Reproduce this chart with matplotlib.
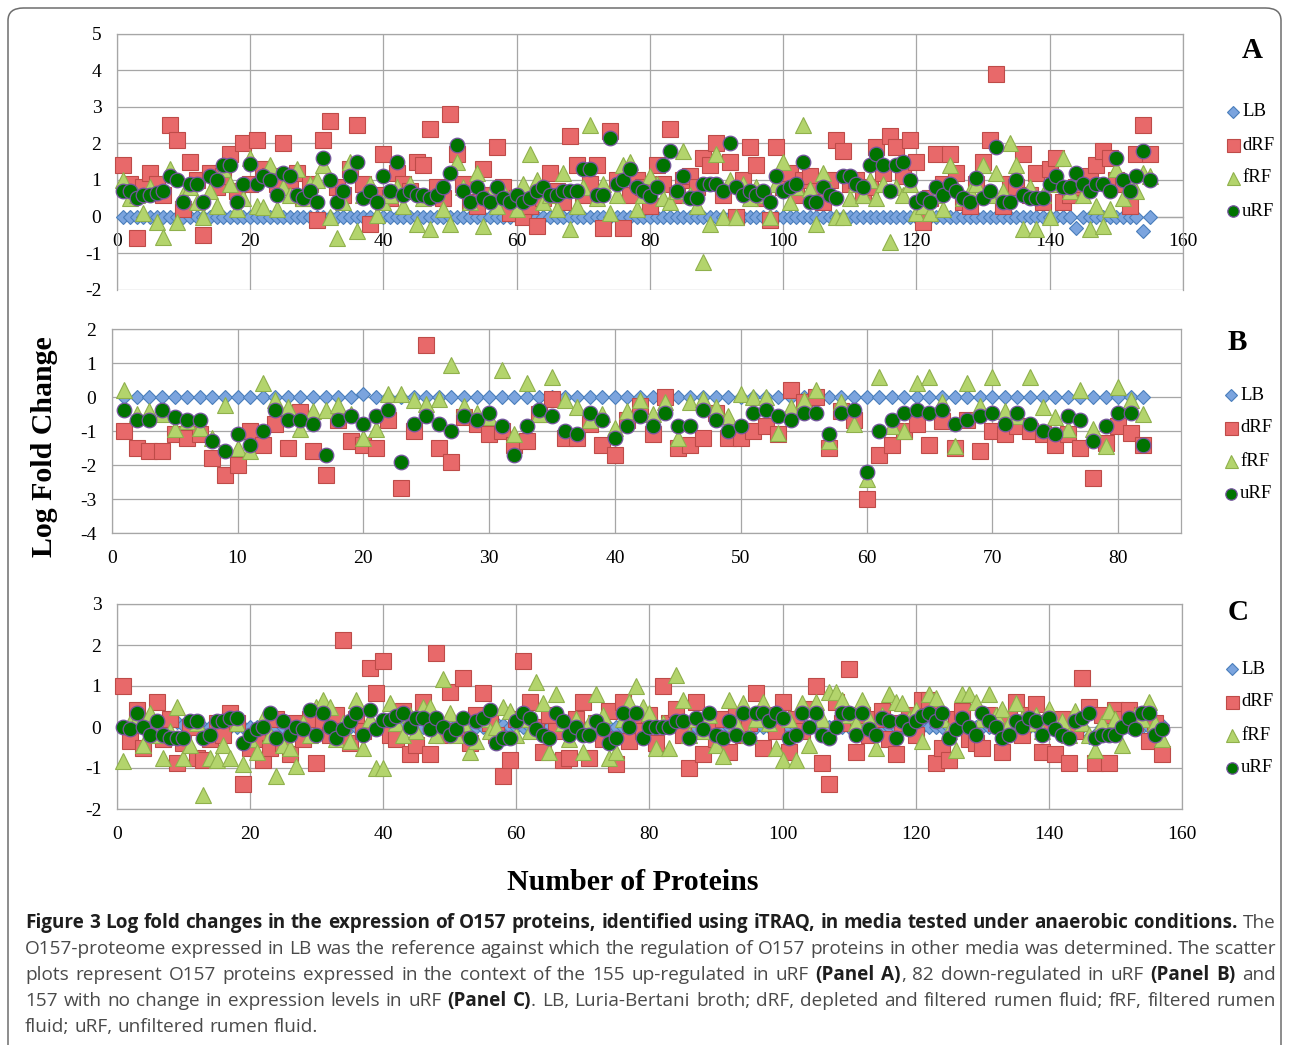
import matplotlib
matplotlib.use('Agg')
import matplotlib.pyplot as plt
from matplotlib.lines import Line2D
from matplotlib.patches import FancyBboxPatch
import numpy as np

W, H = 1290, 1045

# ---------------- Panel A (155 proteins up-regulated in uRF) ----------------
LB_A = [0, 0, 0, 0, 0, 0, 0, 0, 0, 0,
        0, 0, 0, 0, 0, 0, 0, 0, 0, 0,
        0, 0, 0, 0, 0, 0, 0, 0, 0, 0,
        0, 0, 0, 0, 0, 0, 0, 0, 0, 0,
        0, 0, 0, 0, 0, 0, 0, 0, 0, 0,
        0, 0, 0, 0, 0, 0, 0, 0, 0, 0,
        0, 0, 0, 0, 0, 0, 0, 0, 0, 0,
        0, 0, 0, 0, 0, 0, 0, 0, 0, 0,
        0, 0, 0, 0, 0, 0, 0, 0, 0, 0,
        0, 0, 0, 0, 0, 0, 0, 0, 0, 0,
        0, 0, 0, 0, 0, 0, 0, 0, 0, 0,
        0, 0, 0, 0, 0, 0, 0, 0, 0, 0,
        0, 0, 0, 0, 0, 0, 0, 0, 0, 0,
        0, 0, 0, 0, 0, 0, 0, 0, 0, 0,
        0, 0, 0, -0.3, 0, 0, 0, 0, 0, 0,
        0, 0, 0, -0.4, 0]
dRF_A = [1.4, 0.9, -0.6, 0.8, 1.2, 0.9, 0.6, 2.5, 2.1, 0.2,
         1.5, 1.0, -0.5, 1.2, 0.8, 1.1, 1.7, 0.7, 2.0, 0.9,
         2.1, 1.3, 1.1, 0.9, 2.0, 1.0, 1.2, 0.5, 0.9, -0.1,
         2.1, 2.6, 0.8, 0.6, 1.3, 2.5, 0.9, -0.2, 0.6, 1.7,
         0.5, 1.2, 0.9, 0.7, 1.5, 1.4, 2.4, 0.8, 0.5, 2.8,
         1.7, 0.9, 0.4, 0.3, 1.3, 0.6, 1.9, 0.8, 0.1, 0.5,
         0.0, 0.3, -0.25, 0.5, 1.2, 0.7, 0.4, 2.2, 1.4, 0.6,
         0.9, 1.4, -0.3, 2.35, 1.0, -0.3, 0.6, 1.0, 0.8, 0.3,
         1.4, 0.9, 2.4, 0.6, 1.0, 1.1, 0.8, 1.6, 1.4, 2.0,
         0.6, 1.5, 0.0, 1.0, 1.9, 1.4, 0.5, -0.1, 1.9, 0.8,
         1.2, 0.6, 1.0, 1.1, 0.7, 0.4, 1.0, 2.1, 1.8, 0.9,
         1.0, 0.6, 0.8, 1.9, 1.2, 2.2, 1.9, 1.1, 2.1, 1.5,
         -0.15, 0.5, 1.7, 0.9, 1.7, 1.2, 0.4, 0.3, 0.9, 1.5,
         2.1, 3.9, 0.3, 0.9, 0.8, 1.7, 0.6, 1.2, 0.4, 1.3,
         1.6, 0.4, 0.6, 0.8, 0.9, 1.1, 1.4, 1.8, 1.6, 1.0,
         0.9, 0.3, 1.7, 2.5, 1.7]
fRF_A = [1.0, 0.5, 0.6, 0.1, 0.8, -0.15, -0.55, 1.3, -0.15, 0.6,
         0.8, 0.4, 0.0, 0.7, 0.3, 1.3, 0.9, 0.2, 0.5, 1.6,
         0.3, 0.25, 1.4, 0.2, 0.8, 0.6, 1.3, 0.5, 0.9, 1.0,
         1.4, 0.0, -0.6, 0.4, 1.5, -0.4, 0.6, 0.9, 0.05, 0.4,
         0.6, 0.8, 0.3, 0.9, -0.2, 0.5, -0.35, 0.7, 0.2, -0.2,
         1.5, 0.8, 0.4, 1.2, -0.25, 0.6, 0.3, 0.7, 0.5, 0.2,
         0.9, 1.7, 1.0, 0.4, 0.6, 0.2, 1.2, -0.35, 0.3, 0.8,
         2.5, 0.5, 0.9, 0.1, 0.6, 1.4, 1.5, 0.2, 0.6, 1.1,
         0.9, 0.5, 0.4, 0.7, 1.8, 0.6, 0.3, -1.25, -0.2, 1.7,
         0.0, 1.0, 0.0, 0.9, 0.5, 0.8, 0.6, 0.0, 0.9, 1.5,
         0.4, 0.8, 2.5, 0.75, -0.2, 1.2, 0.7, 0.0, 0.0, 0.5,
         0.9, 0.6, 1.0, 0.5, 0.9, -0.7, 0.8, 0.6, 0.9, 0.1,
         0.3, 0.1, 0.6, 0.2, 1.4, 0.8, 0.5, 0.7, 0.9, 1.4,
         0.6, 1.2, 0.7, 2.0, 1.4, -0.35, 0.8, -0.35, 0.6, 0.0,
         0.9, 1.6, 0.7, 1.0, 0.6, -0.35, 0.3, -0.25, 0.2, 1.3,
         0.5, 0.9, 0.7, 1.2, 1.1]
uRF_A = [0.7, 0.7, 0.5, 0.6, 0.6, 0.65, 0.7, 1.1, 1.0, 0.4,
         0.9, 0.9, 0.4, 1.1, 1.0, 1.4, 1.4, 0.4, 0.9, 1.45,
         0.9, 1.1, 1.0, 0.6, 1.2, 1.1, 0.6, 0.5, 0.7, 0.4,
         1.6, 1.0, 0.4, 0.7, 1.1, 1.5, 0.5, 0.7, 0.4, 1.1,
         0.7, 1.5, 0.6, 0.7, 0.6, 0.6, 0.5, 0.6, 0.8, 1.2,
         1.95, 0.7, 0.4, 0.8, 0.5, 0.4, 0.8, 0.5, 0.4, 0.6,
         0.4, 0.5, 0.7, 0.8, 0.6, 0.6, 0.7, 0.7, 0.7, 1.3,
         1.3, 0.6, 0.6, 2.15, 0.9, 1.0, 1.3, 0.8, 0.7, 0.55,
         0.8, 1.4, 1.8, 0.7, 1.1, 0.5, 0.5, 0.9, 0.9, 0.9,
         0.7, 2.0, 0.8, 0.6, 0.7, 0.6, 0.7, 0.4, 1.1, 0.7,
         0.8, 0.9, 1.5, 0.4, 0.4, 0.8, 0.6, 0.5, 1.1, 1.1,
         0.9, 0.8, 1.4, 1.7, 1.4, 0.7, 1.4, 1.5, 1.0, 0.4,
         0.5, 0.4, 0.8, 0.6, 0.9, 0.7, 0.5, 0.4, 1.05, 0.5,
         0.7, 1.9, 0.4, 0.4, 1.0, 0.6, 0.5, 0.5, 0.5, 0.9,
         1.1, 0.8, 0.8, 1.2, 0.9, 0.7, 0.9, 0.9, 0.7, 1.6,
         1.0, 0.7, 1.1, 1.8, 1.0]

# ---------------- Panel B (82 proteins down-regulated in uRF) ----------------
LB_B = [0, 0, 0, 0, 0, 0, 0, 0, 0, 0,
        0, 0, 0, 0, 0, 0, 0, 0, 0, 0.1,
        0, 0, 0, 0, 0, 0, 0, 0, 0, 0,
        0, 0, 0, 0, 0, 0, 0, 0, 0, 0,
        0, 0, 0, 0, 0, 0, 0, 0, 0, 0,
        0, 0, 0, 0, 0, 0, 0, 0, 0, 0,
        0, 0, 0, 0, 0, 0, 0, 0, 0, 0,
        0, 0, 0, 0, 0, 0, 0, 0, 0, 0,
        0, 0]
dRF_B = [-1.0, -1.5, -1.6, -1.6, -1.1, -1.2, -1.1, -1.8, -2.3, -2.0,
         -1.0, -1.4, -0.8, -1.5, -0.45, -1.6, -2.3, -0.67, -1.3, -1.4,
         -1.5, -0.67, -2.67, -1.0, 1.53, -1.5, -1.9, -0.6, -0.8, -1.1,
         -1.0, -1.4, -1.3, -0.5, -0.05, -1.2, -1.2, -0.8, -1.4, -1.7,
         -0.67, -0.25, -1.1, 0.0, -1.5, -1.4, -1.2, -0.47, -1.2, -1.2,
         -1.0, -0.86, -1.1, 0.2, -0.15, 0.0, -1.5, -0.4, -0.67, -3.0,
         -1.7, -1.4, -1.0, -0.8, -1.4, -0.7, -1.5, -0.67, -1.6, -1.0,
         -1.1, -0.86, -1.0, -1.1, -1.4, -1.1, -1.5, -2.38, -1.35, -0.86,
         -1.05, -1.4]
fRF_B = [0.21, -0.5, -0.4, -0.5, -0.95, -0.7, -0.9, -1.2, -0.23, -1.5,
         -1.6, 0.41, -0.1, -0.3, -0.95, -0.4, -0.37, -0.23, -0.5, -1.2,
         -0.95, 0.1, 0.1, -0.1, -0.2, -0.05, 0.95, -0.25, -0.47, -0.6,
         0.8, -1.1, 0.4, -0.5, 0.6, -0.1, -0.3, -0.67, -0.5, -0.9,
         -0.4, -0.1, -0.5, -0.15, -1.2, -0.15, -0.05, -0.3, -0.57, 0.1,
         0.0, 0.0, -1.05, -0.3, -0.1, 0.2, -1.3, -0.15, -0.8, -2.4,
         0.6, -0.86, -1.0, 0.4, 0.6, -0.15, -1.45, 0.4, -0.25, 0.6,
         -0.4, -0.55, 0.6, -0.3, -0.6, -0.95, 0.2, -0.95, -1.45, 0.3,
         -0.1, -0.5]
uRF_B = [-0.37, -0.67, -0.67, -0.37, -0.59, -0.67, -0.67, -1.28, -1.6, -1.1,
         -1.4, -1.0, -0.37, -0.67, -0.67, -0.8, -1.7, -0.67, -0.57, -0.8,
         -0.57, -0.37, -1.9, -0.8, -0.57, -0.8, -1.0, -0.57, -0.67, -0.47,
         -0.86, -1.7, -0.86, -0.37, -0.57, -1.0, -1.1, -0.47, -0.67, -1.2,
         -0.86, -0.57, -0.86, -0.47, -0.86, -0.86, -0.37, -0.67, -1.0, -0.86,
         -0.47, -0.37, -0.57, -0.67, -0.47, -0.47, -1.1, -0.47, -0.37, -2.2,
         -1.0, -0.67, -0.47, -0.37, -0.47, -0.37, -0.8, -0.67, -0.57, -0.47,
         -0.8, -0.47, -0.8, -1.0, -1.1, -0.57, -0.67, -1.28, -0.86, -0.47,
         -0.47, -1.4]

# ---------------- Panel C (157 proteins with no change in uRF) ----------------
LB_C = [0, 0, 0, 0, 0, 0, 0, 0.1, 0.12, 0.05,
        0, 0, 0, 0, 0, 0, 0, 0, 0, 0,
        0, 0, 0, 0, 0, 0, 0, 0, 0, 0,
        0, 0, 0, 0, 0, 0, 0, 0, 0, 0,
        0, 0, 0, 0, 0, 0, 0, 0, 0, 0,
        0, 0, 0, 0, 0, 0, 0.1, 0.05, 0, 0,
        0, 0, 0, 0, 0, 0, 0, 0, 0, 0,
        0, 0, 0, 0, 0, 0, 0, 0.05, 0, 0,
        0, 0, 0, 0, 0, 0, 0, 0, 0, 0,
        0, 0, 0, 0, 0, 0, 0, 0, 0, 0,
        0, 0, 0, 0, 0, 0, 0, 0, 0, 0,
        0, 0, 0, 0, 0, 0, 0, 0, 0, 0,
        0, 0, 0, 0, 0, 0, 0, 0, 0, 0,
        0, 0, 0, 0, 0, 0, 0, 0, 0, 0,
        0, 0, 0, 0, 0, -0.25, -0.2, 0, 0, 0,
        0, 0, 0, 0, 0, 0, 0.05]
dRF_C = [1.0, -0.35, 0.42, -0.5, 0.1, 0.62, -0.3, 0.2, -0.87, -0.4,
         0.0, -0.75, -0.8, -0.3, 0.1, -0.2, 0.34, 0.1, -1.4, -0.5,
         -0.3, -0.8, -0.5, 0.2, -0.4, -0.67, 0.1, -0.3, 0.2, -0.87,
         0.1, -0.2, 0.3, 2.12, -0.4, 0.2, -0.1, 1.45, 0.83, 1.6,
         -0.2, -0.3, 0.4, -0.67, -0.45, 0.62, -0.67, 1.8, -0.2, 0.85,
         -0.1, 1.2, -0.4, 0.3, 0.83, 0.1, -0.2, -1.2, -0.8, 0.2,
         1.6, 0.62, 0.0, -0.6, 0.3, -0.1, -0.8, -0.75, 0.2, 0.62,
         -0.75, 0.1, -0.3, 0.4, -0.9, 0.62, -0.35, 0.2, -0.1, 0.3,
         -0.4, 1.0, 0.1, 0.45, -0.2, -1.0, 0.62, -0.67, 0.1, -0.3,
         0.2, -0.6, 0.3, -0.2, 0.1, 0.83, -0.5, 0.3, -0.1, 0.62,
         -0.6, 0.2, -0.1, 0.45, 1.0, -0.87, -1.4, 0.62, 0.1, 1.42,
         -0.6, 0.3, -0.2, 0.2, 0.4, -0.3, -0.67, 0.1, 0.3, -0.2,
         0.67, 0.67, -0.87, -0.5, -0.8, 0.2, 0.4, -0.3, -0.4, -0.5,
         0.3, 0.1, -0.6, 0.2, 0.62, -0.2, 0.3, 0.55, -0.6, 0.1,
         -0.67, 0.2, -0.87, -0.1, 1.2, 0.5, -0.87, 0.3, -0.87, 0.42,
         0.2, 0.42, 0.1, 0.3, -0.35, 0.1, -0.67]
fRF_C = [-0.83, 0.1, 0.2, -0.45, 0.34, -0.2, -0.75, -0.1, 0.5, -0.75,
         -0.45, 0.1, -1.66, -0.75, -0.8, -0.45, -0.75, 0.1, -0.9, -0.3,
         -0.6, 0.2, -0.2, -1.2, -0.45, -0.5, -0.95, 0.1, -0.2, 0.5,
         0.67, 0.5, -0.3, 0.1, -0.35, 0.67, -0.5, 0.2, -1.0, -1.0,
         0.58, 0.1, -0.2, 0.3, -0.1, 0.5, 0.5, -0.2, 1.18, 0.34,
         -0.2, 0.1, -0.6, -0.35, 0.2, -0.1, 0.0, 0.5, 0.4, -0.2,
         0.2, -0.1, 1.1, 0.58, -0.6, 0.8, 0.1, -0.3, 0.2, -0.6,
         0.1, 0.8, 0.3, -0.75, -0.6, 0.2, 0.62, 1.0, 0.5, 0.34,
         -0.5, 0.1, -0.5, 1.28, 0.67, -0.2, 0.2, -0.1, 0.3, -0.45,
         -0.7, 0.67, 0.1, 0.58, -0.2, 0.2, 0.62, 0.1, -0.5, -0.8,
         0.2, -0.8, 0.58, -0.45, 0.62, 0.2, 0.85, 0.85, 0.67, 0.3,
         0.1, 0.67, 0.2, -0.5, 0.3, 0.8, 0.62, 0.58, 0.2, 0.42,
         -0.35, 0.8, 0.7, 0.2, -0.1, -0.55, 0.8, 0.8, 0.6, 0.2,
         0.8, 0.3, 0.45, 0.1, 0.58, 0.2, 0.1, 0.3, -0.1, 0.45,
         0.1, 0.15, -0.2, 0.4, 0.1, -0.2, -0.55, 0.1, 0.4, 0.2,
         -0.45, 0.1, 0.3, 0.2, 0.62, 0.1, -0.3]
uRF_C = [0.0, -0.06, 0.34, 0.0, -0.2, 0.14, -0.2, -0.28, -0.28, -0.28,
         0.14, 0.14, -0.28, -0.2, 0.14, 0.14, 0.22, 0.22, -0.4, -0.2,
         -0.06, 0.0, 0.34, -0.28, 0.14, -0.2, 0.0, -0.06, 0.42, -0.2,
         0.34, 0.0, -0.28, -0.06, 0.14, 0.34, -0.2, 0.42, -0.06, 0.18,
         0.18, 0.28, 0.34, 0.0, 0.22, 0.22, -0.06, 0.22, 0.0, -0.2,
         -0.06, 0.22, -0.28, 0.14, 0.22, 0.42, -0.4, -0.28, -0.28, 0.14,
         0.34, 0.22, -0.06, -0.2, -0.28, 0.34, 0.14, -0.2, 0.0, -0.2,
         -0.2, 0.14, -0.06, -0.4, -0.28, 0.34, 0.0, 0.34, -0.28, 0.0,
         0.0, 0.0, 0.0, 0.14, 0.14, -0.28, 0.22, -0.06, 0.34, -0.2,
         -0.28, 0.14, -0.2, 0.34, -0.28, 0.34, 0.34, 0.14, 0.34, 0.22,
         -0.28, -0.2, 0.34, 0.0, 0.34, -0.2, -0.28, 0.0, 0.34, 0.34,
         -0.2, 0.34, -0.06, -0.2, 0.22, 0.14, -0.28, 0.14, -0.06, 0.14,
         0.28, 0.34, 0.14, 0.34, -0.28, -0.06, 0.22, 0.0, -0.2, 0.34,
         0.14, 0.0, -0.28, -0.2, 0.14, 0.0, 0.22, 0.14, -0.2, 0.22,
         -0.06, -0.2, -0.28, 0.14, 0.22, 0.34, -0.28, -0.2, -0.2, -0.2,
         0.0, 0.22, -0.06, 0.34, 0.34, -0.2, -0.06]

SERIES = ["LB", "dRF", "fRF", "uRF"]
A_YTICKS = [-2, -1, 0, 1, 2, 3, 4, 5]
B_YTICKS = [-4, -3, -2, -1, 0, 1, 2]
C_YTICKS = [-2, -1, 0, 1, 2, 3]
A_XTICKS = [0, 20, 40, 60, 80, 100, 120, 140, 160]
B_XTICKS = [0, 10, 20, 30, 40, 50, 60, 70, 80]
C_XTICKS = [0, 20, 40, 60, 80, 100, 120, 140, 160]

CAPTION = [
    "*Figure 3 Log fold changes in the expression of O157 proteins, identified using iTRAQ, in media tested under anaerobic conditions.* The",
    "O157-proteome expressed in LB was the reference against which the regulation of O157 proteins in other media was determined. The scatter",
    "plots represent O157 proteins expressed in the context of the 155 up-regulated in uRF *(Panel A)*, 82 down-regulated in uRF *(Panel B)* and",
    "157 with no change in expression levels in uRF *(Panel C)*. LB, Luria-Bertani broth; dRF, depleted and filtered rumen fluid; fRF, filtered rumen",
    "fluid; uRF, unfiltered rumen fluid.",
]

# ---------------- styles ----------------
STY = {
    "LB":  dict(marker="D", ms=7.2, mfc="#7ba4de", mec="#4a7ebb", mew=0.8),
    "dRF": dict(marker="s", ms=12.0, mfc="#e8696a", mec="#be4b48", mew=0.8),
    "fRF": dict(marker="^", ms=12.0, mfc="#b3d46c", mec="#8fb04c", mew=0.8),
    "uRF": dict(marker="o", ms=10.5, mfc="#007300", mec="#74549e", mew=0.9),
}
SERIF = "Liberation Serif"
GRID = "#a6a6a6"

fig = plt.figure(figsize=(W / 100, H / 100), dpi=100)
fig.patch.set_facecolor("white")


def fx(px):
    return px / W


def fy(py):
    return 1 - py / H


def make_panel(l, t, r, b, xmax, xticks, yticks, data, letter, letter_xy, leg_x, leg_y0, axis_at_zero):
    ax = fig.add_axes([fx(l), fy(b), fx(r) - fx(l), fy(t) - fy(b)])
    for k, name in enumerate(SERIES):
        vals = data[k]
        xs = np.arange(1, len(vals) + 1)
        ax.plot(xs, vals, linestyle="none", zorder=3 + k, clip_on=False, **STY[name])
    ax.set_xlim(0, xmax)
    ax.set_ylim(min(yticks), max(yticks))
    ax.set_xticks(xticks)
    ax.set_yticks(yticks)
    ax.set_xticklabels([str(v) for v in xticks])
    ax.set_yticklabels([str(v) for v in yticks])
    ax.grid(True, color=GRID, lw=0.9)
    ax.set_axisbelow(True)
    for s in ax.spines.values():
        s.set_color(GRID)
        s.set_linewidth(0.9)
    if axis_at_zero:
        ax.spines["bottom"].set_position(("data", 0))
    ax.tick_params(length=0, labelsize=14)
    ax.tick_params(axis="x", pad=12)
    ax.tick_params(axis="y", pad=11)
    for lab in ax.get_xticklabels() + ax.get_yticklabels():
        lab.set_fontfamily(SERIF)
    fig.text(fx(letter_xy[0]), fy(letter_xy[1]), letter, fontsize=21, fontweight="bold",
             fontfamily=SERIF, ha="center", va="center")
    for k, name in enumerate(SERIES):
        yy = leg_y0 + 33 * k
        st = dict(STY[name])
        st["ms"] = st["ms"] * 0.78
        fig.add_artist(Line2D([fx(leg_x)], [fy(yy)], transform=fig.transFigure,
                              linestyle="none", **st))
        fig.text(fx(leg_x + 9), fy(yy), name, fontsize=13.5, fontfamily=SERIF,
                 ha="left", va="center")
    return ax


make_panel(116.7, 33.7, 1183, 289.7, 160, A_XTICKS, A_YTICKS,
           [LB_A, dRF_A, fRF_A, uRF_A], "A", (1252, 50), 1233, 112, True)
make_panel(111.7, 329, 1181, 533, 85, B_XTICKS, B_YTICKS,
           [LB_B, dRF_B, fRF_B, uRF_B], "B", (1237, 342), 1231, 395, False)
make_panel(116.7, 604, 1182, 809, 160, C_XTICKS, C_YTICKS,
           [LB_C, dRF_C, fRF_C, uRF_C], "C", (1238, 612), 1232, 669, False)

fig.text(fx(45), fy(447), "Log Fold Change", rotation=90, fontsize=21.5,
         fontweight="bold", fontfamily=SERIF, ha="center", va="center")
fig.text(fx(633), fy(882), "Number of Proteins", fontsize=21.5,
         fontweight="bold", fontfamily=SERIF, ha="center", va="center")

# border
fig.add_artist(FancyBboxPatch((fx(8), fy(1080)), fx(1281) - fx(8), fy(8) - fy(1080),
                              boxstyle="round,pad=0,rounding_size=0.012",
                              transform=fig.transFigure, fill=False,
                              edgecolor="#6d6d6d", lw=1.1))

# caption (justified)
renderer = fig.canvas.get_renderer()
CAP_FONT = "Open Sans"


def measure(text, bold, fs):
    t = fig.text(0, 0, text, fontsize=fs, fontfamily=CAP_FONT,
                 fontweight="bold" if bold else "normal")
    w = t.get_window_extent(renderer).width
    t.remove()
    return w


def parse(line, bold):
    words = []
    for w in line.split(" "):
        runs = []
        parts = w.split("*")
        for j, p in enumerate(parts):
            if j > 0:
                bold = not bold
            if p:
                runs.append((p, bold))
        words.append(runs)
    return words, bold


left_px, right_px = 25, 1276
target = right_px - left_px
bold = False
parsed = []
for line in CAPTION:
    words, bold = parse(line, bold)
    parsed.append(words)

# regular size: fit the regular lines (2-4) with natural spacing
base = 12.0
sp0 = measure("a a", False, base) - measure("aa", False, base)
maxw = 0
for words in parsed[1:4]:
    tot = sum(measure(t, b, base) for runs in words for (t, b) in runs) + sp0 * (len(words) - 1)
    maxw = max(maxw, tot)
fs_reg = base * (target - 10) / maxw
# bold size: fit line 1 with natural spacing
sp1 = measure("a a", False, fs_reg) - measure("aa", False, fs_reg)
fs_bold = fs_reg
wl1 = sum(measure(t, b, fs_reg) for runs in parsed[0] for (t, b) in runs) + sp1 * (len(parsed[0]) - 1)
if wl1 > target - 6:
    fs_bold = fs_reg * (target - 6 - (wl1 - sum(measure(t, True, fs_reg) for runs in parsed[0] for (t, b) in runs if b))) \
        / sum(measure(t, True, fs_reg) for runs in parsed[0] for (t, b) in runs if b)


def fsz(b):
    return fs_bold if b else fs_reg


cap_y = [923, 949, 975, 1001, 1027]
for i, words in enumerate(parsed):
    widths = [[measure(t, b, fsz(b)) for (t, b) in runs] for runs in words]
    wsum = sum(sum(w) for w in widths)
    if i < len(parsed) - 1 and len(words) > 1:
        gap = (target - wsum) / (len(words) - 1)
    else:
        gap = sp1
    x = left_px
    for runs, ws in zip(words, widths):
        for (t, b), w in zip(runs, ws):
            fig.text(fx(x), fy(cap_y[i]), t, fontsize=fsz(b), fontfamily=CAP_FONT,
                     fontweight="bold" if b else "normal",
                     color="#1e1e1e" if b else "#4a4a4a", ha="left", va="center")
            x += w
        x += gap

fig.savefig("out.png", dpi=100)
